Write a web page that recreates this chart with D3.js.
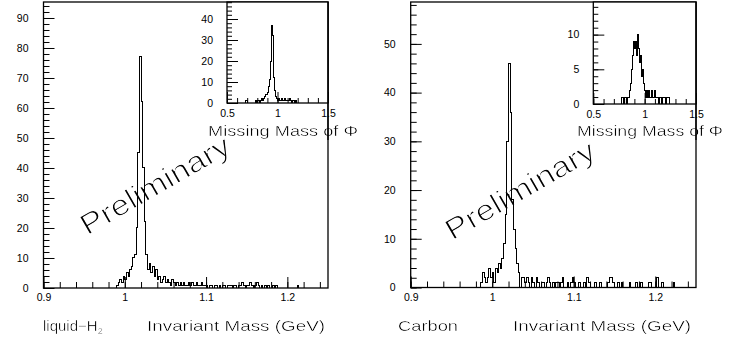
<!DOCTYPE html>
<html><head><meta charset="utf-8">
<script src="https://cdn.jsdelivr.net/npm/d3@7/dist/d3.min.js"></script>
<style>
html,body{margin:0;padding:0;background:#fff;}
svg{display:block;}
text{font-family:"Liberation Sans",Arial,sans-serif;}
</style></head>
<body><svg id="c" width="732" height="342"></svg>
<script>
// ---------------- DATA ----------------
// Invariant-mass histograms: bins of 0.002 GeV starting at 0.900 GeV
const invBinStart = 0.900, invBinWidth = 0.002;
const h2Invariant = [
 0,0,0,0,0,0,0,0,0,0, 0,0,0,0,0,0,0,0,0,0,
 0,0,0,0,0,0,0,0,0,0, 0,0,0,0,0,0,0,0,0,0,
 0,0,0,0,0,1,2,3,2,4, 3,5,4,6,7,10,11,20,45,77,
 62,40,22,11,6,8,5,7,4,6, 3,4,2,3,4,2,3,2,1,3,
 2,1,2,1,2,1,2,1,1,2, 1,2,1,1,2,1,1,2,1,1,
 1,0,1,1,0,1,1,0,1,0, 1,1,0,1,1,1,0,1,1,0,
 1,1,2,1,0,1,1,2,1,0, 1,2,1,0,1,0,1,0,1,0,
 0,1,0,1,0,0,0,0,0,0, 0,0,0,0,0,0,1,0,0,0,
 0,0,0,0,0
];
const carbonInvariant = [
 0,0,0,0,0,0,0,0,0,0, 0,0,0,0,0,0,0,0,0,0,
 0,0,0,0,0,0,0,0,0,0, 0,0,0,0,0,0,0,0,0,0,
 0,0,0,1,3,2,1,2,4,2, 3,1,4,3,5,4,6,9,15,30,
 46,36,18,12,8,5,3,0,2,2, 1,2,1,0,2,1,0,2,1,0,
 1,1,0,1,2,1,0,1,0,1, 1,0,1,2,0,0,1,0,1,2,
 1,0,0,1,0,0,1,0,2,1, 0,0,0,1,0,0,1,0,0,0,
 0,1,2,2,1,0,0,1,0,1, 0,0,0,0,1,0,0,0,1,0,
 0,1,0,0,0,0,1,1,0,0, 0,2,0,0,1,0,0,0,0,0,
 0,1,0,0,0
];
// Missing-mass histograms: bins of 0.01 GeV starting at 0.50 GeV
const mmBinStart = 0.50, mmBinWidth = 0.01;
const h2Missing = [
 0,0,0,0,0,0,0,0,0,0, 0,0,0,0,0,0,0,0,1,1,
 0,0,0,0,0,0,0,0,1,0, 1,1,0,1,2,1,2,3,4,4,
 5,8,11,20,37,32,12,6,3,2, 1,2,1,1,2,1,1,2,1,1,
 1,1,2,1,0,1,1,0,1,0, 0,0,0,0,0,0,0,0,0,0,
 0,0,0,0,0,0,0,0,0,0, 0,0,0,0,0,0,0,0,0,0
];
const carbonMissing = [
 0,0,0,0,0,0,0,0,0,0, 0,0,0,0,0,0,0,0,0,0,
 0,0,0,0,0,0,0,1,1,0, 1,1,0,1,1,2,3,5,7,9,
 8,9,7,10,8,6,7,4,5,3, 2,1,2,1,2,1,1,2,1,1,
 2,1,1,0,1,1,0,1,1,1, 0,1,1,1,0,0,0,0,0,0,
 0,0,0,0,0,0,0,0,0,0, 0,0,0,0,0,0,0,0,0,0
];
// Tick labels
const invXTicks = [0.9, 1.0, 1.1, 1.2];
const h2YTicks = [0,10,20,30,40,50,60,70,80,90];
const carbonYTicks = [0,10,20,30,40,50];
const mmXTicks = [0.5, 1.0, 1.5];
const h2MmYTicks = [0,10,20,30,40];
const carbonMmYTicks = [0,5,10];
const targetLabels = ["liquid\u2212H", "Carbon"];
const xTitle = "Invariant Mass (GeV)";
const insetTitle = "Missing Mass of \u03A6";
const watermark = "Preliminary";

// ---------------- DRAWING ----------------
const svg = d3.select("#c");
const defs = svg.append("defs");
const fmt = v => (v === 1 ? "1" : d3.format("")(v));
let maskN = 0;

// text drawn with thinned strokes (eroded by a mask) to mimic the thin stroke font
function thinText(parent, attrs, s, erode, build){
  const id = "thin" + (maskN++);
  const m = defs.append("mask").attr("id", id).attr("maskUnits","userSpaceOnUse")
    .attr("x",-2000).attr("y",-2000).attr("width",4000).attr("height",4000);
  const mt = m.append("text");
  const t = parent.append("text");
  [mt, t].forEach(el => {
    Object.entries(attrs).forEach(([k,v]) => el.attr(k, v));
    if (build) build(el); else el.text(s);
  });
  mt.style("fill","#fff").style("stroke","#000").style("stroke-width", erode);
  t.style("fill","#000").attr("mask","url(#"+id+")");
  return t;
}

function hist(g, x, y, start, width, vals){
  const pts = [[x(start), y(0)]];
  vals.forEach((v,i)=>{
    const a = start + i*width, b = start + (i+1)*width;
    pts.push([x(a), y(v)], [x(b), y(v)]);
  });
  pts.push([x(start + vals.length*width), y(0)]);
  g.append("path").attr("d", d3.line()(pts))
    .attr("fill","none").attr("stroke","#000").attr("stroke-width",1)
    .attr("shape-rendering","crispEdges");
}

function panel(o){
  const x = d3.scaleLinear().domain(o.xd).range([o.l, o.r]);
  const y = d3.scaleLinear().domain(o.yd).range([o.b, o.t]);
  const g = svg.append("g");
  if (o.bg) g.append("rect").attr("x",o.l).attr("y",o.t).attr("width",o.r-o.l).attr("height",o.b-o.t).attr("fill","#fff");
  const clipId = "clip"+Math.round(o.l)+"_"+Math.round(o.t);
  defs.append("clipPath").attr("id",clipId).append("rect")
    .attr("x",o.l).attr("y",o.t).attr("width",o.r-o.l).attr("height",o.b-o.t);
  const hg = g.append("g").attr("clip-path","url(#"+clipId+")");
  hist(hg, x, y, o.binStart, o.binWidth, o.vals);

  const xMinor = d3.range(o.xd[0], o.xd[1]+1e-9, o.xMinorStep);
  const yMinor = d3.range(o.yd[0], o.yd[1]+1e-9, o.yMinorStep);
  g.append("g").attr("transform",`translate(0,${o.b})`)
    .call(d3.axisBottom(x).tickValues(xMinor).tickSize(-o.minor).tickSizeOuter(0).tickFormat(""));
  g.append("g").attr("transform",`translate(0,${o.b})`)
    .call(d3.axisBottom(x).tickValues(o.xTicks).tickSize(-o.major).tickSizeOuter(0)
      .tickPadding(o.xPad).tickFormat(fmt));
  g.append("g").attr("transform",`translate(${o.l},0)`)
    .call(d3.axisLeft(y).tickValues(yMinor).tickSize(-o.minor).tickSizeOuter(0).tickFormat(""));
  g.append("g").attr("transform",`translate(${o.l},0)`)
    .call(d3.axisLeft(y).tickValues(o.yTicks).tickSize(-o.major).tickSizeOuter(0)
      .tickPadding(o.yPad).tickFormat(fmt));
  g.selectAll(".tick line").attr("stroke","#000").attr("stroke-width",1);
  g.selectAll(".domain").remove();
  g.selectAll(".tick text").attr("font-family","Liberation Sans, Arial, sans-serif")
    .attr("font-size", o.fs).attr("fill","#000");
  g.append("rect").attr("x",o.l).attr("y",o.t).attr("width",o.r-o.l).attr("height",o.b-o.t)
    .attr("fill","none").attr("stroke","#000").attr("stroke-width",1.3);
  return {x,y,g};
}

const mainCommon = {xd:[0.9,1.25], binStart:invBinStart, binWidth:invBinWidth,
  xMinorStep:0.02, yMinorStep:2, minor:6, major:11, xPad:6, yPad:15, fs:10.5, xTicks:invXTicks};

panel(Object.assign({}, mainCommon, {l:43.5, r:328, t:2, b:288, yd:[0, 95.33], vals:h2Invariant, yTicks:h2YTicks}));
panel(Object.assign({}, mainCommon, {l:410.7, r:696, t:2, b:287.5, yd:[0, 58.6], vals:carbonInvariant, yTicks:carbonYTicks}));

const insetCommon = {xd:[0.5,1.5], binStart:mmBinStart, binWidth:mmBinWidth,
  xMinorStep:0.1, minor:5, major:11, xPad:7, yPad:14, fs:10.5, xTicks:mmXTicks, bg:true};
panel(Object.assign({}, insetCommon, {l:227, r:328, t:2, b:103, yd:[0,48.1], yMinorStep:2, vals:h2Missing, yTicks:h2MmYTicks}));
panel(Object.assign({}, insetCommon, {l:593.3, r:696, t:2, b:104, yd:[0,14.7], yMinorStep:1, vals:carbonMissing, yTicks:carbonMmYTicks}));

function txt(s, x, y, len, fs){
  return thinText(svg, {x:x, y:y, "font-size":fs, textLength:len, lengthAdjust:"spacingAndGlyphs"}, s, 0.3);
}
txt(insetTitle, 208, 136, 150, 15.5);
txt(insetTitle, 577, 136, 146, 15.5);
svg.append("line").attr("x1",328).attr("x2",328).attr("y1",2).attr("y2",140).attr("stroke","#000").attr("stroke-width",1.3);
svg.append("line").attr("x1",696).attr("x2",696).attr("y1",2).attr("y2",140).attr("stroke","#000").attr("stroke-width",1.3);

txt(xTitle, 147, 331, 178, 15);
txt(xTitle, 513, 331, 178, 15);
thinText(svg, {x:43, y:331, "font-size":15}, null, 0.3, el => {
  el.append("tspan").text(targetLabels[0]);
  el.append("tspan").attr("font-size",9).attr("dy",3).text("2");
});
txt(targetLabels[1], 398, 331, 60, 15);

// Watermarks
[[155,185],[520,190]].forEach(([cx,cy])=>{
  const wg = svg.append("g").attr("transform",`translate(${cx},${cy}) rotate(-30)`);
  thinText(wg, {x:0, y:10, "text-anchor":"middle", "font-family":"'DejaVu Sans', sans-serif",
    "font-size":29, textLength:168, lengthAdjust:"spacingAndGlyphs"}, watermark, 1.1);
});
</script></body></html>
